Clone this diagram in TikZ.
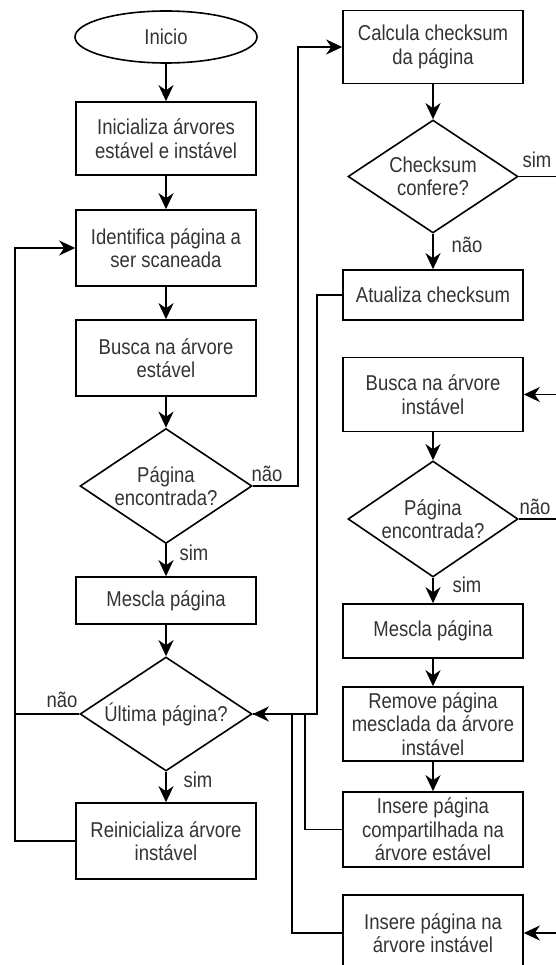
\documentclass[tikz,border=0pt]{standalone}
\usepackage{fontspec}
\setmainfont{Liberation Sans}[FakeStretch=0.86]
\usetikzlibrary{shapes.geometric,arrows.meta}
\begin{document}
\begin{tikzpicture}[x=1pt,y=-1pt,
  txt/.style={font=\fontsize{21.5}{23.5}\selectfont, text=black!80},
  proc/.style={txt, draw, line width=1.6pt, rectangle, minimum width=180pt,
    inner sep=0pt, align=center},
  startnode/.style={txt, draw, line width=1.6pt, ellipse, minimum width=182pt,
    minimum height=52pt, inner sep=0pt},
  decision/.style={draw, line width=1.6pt, diamond, inner sep=0pt},
  dtext/.style={txt, align=center},
  lbl/.style={txt, inner sep=0pt},
  wire/.style={line width=1.6pt},
  flow/.style={wire, -{Stealth[length=16pt,width=15pt,inset=5pt]}}
]
\useasboundingbox (0,0) rectangle (556,965);
\clip (0,0) rectangle (556,965);

% left column
\node[startnode] (inicio) at (166,37) {Inicio};
\node[proc, minimum height=73pt] (init) at (166,138.5) {Inicializa árvores\\estável e instável};
\node[proc, minimum height=76pt] (ident) at (166,248) {Identifica página a\\ser scaneada};
\node[proc, minimum height=76pt] (busca1) at (166,358) {Busca na árvore\\estável};
\node[decision, minimum width=172pt, minimum height=115pt,
  label={[dtext]center:Página\\encontrada?}] (dec1) at (166,486) {};
\node[proc, minimum height=47pt] (mescla1) at (166,600.5) {Mescla página};
\node[decision, minimum width=172pt, minimum height=114pt,
  label={[dtext]center:Última página?}] (dec2) at (166,714) {};
\node[proc, minimum height=76pt] (reinic) at (166,841) {Reinicializa árvore\\instável};

% right column
\node[proc, minimum height=73pt] (calc) at (433,47) {Calcula checksum\\da página};
\node[decision, minimum width=170pt, minimum height=113pt,
  label={[dtext]center:Checksum\\confere?}] (dec3) at (433,176.5) {};
\node[proc, minimum height=50pt] (atualiza) at (433,295) {Atualiza checksum};
\node[proc, minimum height=74pt] (busca2) at (433,394.5) {Busca na árvore\\instável};
\node[decision, minimum width=170pt, minimum height=116pt,
  label={[dtext]center:Página\\encontrada?}] (dec4) at (433,519) {};
\node[proc, minimum height=54pt] (mescla2) at (433,631) {Mescla página};
\node[proc, minimum height=74pt] (remove) at (433,724) {Remove página\\mesclada da árvore\\instável};
\node[proc, minimum height=75pt] (insere1) at (433,829.5) {Insere página\\compartilhada na\\árvore estável};
\node[proc, minimum height=76pt] (insere2) at (433,933) {Insere página na\\árvore instável};

% off-page ends and the left return rail
\coordinate (redge) at (560,0);
\coordinate (lrail) at (15,0);

% main sequence
\draw[flow] (inicio) -- (init);
\draw[flow] (init) -- (ident);
\draw[flow] (ident) -- (busca1);
\draw[flow] (busca1) -- (dec1);
\draw[flow] (dec1) -- (mescla1);
\draw[flow] (mescla1) -- (dec2);
\draw[flow] (dec2) -- (reinic);

% loop back to the next page
\draw[flow] (reinic.west) -- (reinic.west -| lrail) |- (ident.west);
\draw[wire] (dec2.west) -- (dec2.west -| lrail);

% page not found in the stable tree
\draw[flow] (dec1.east) -- ++(45,0) |- (calc.west);
\draw[flow] (calc) -- (dec3);
\draw[flow] (dec3) -- (atualiza);
\draw[wire] (dec3.east) -- (dec3.east -| redge);

% returns to the last-page test
\draw[flow] (atualiza.west) -- ++(-25,0) |- (dec2.east);
\draw[wire] (insere1.west) -- ++(-37,0) |- (dec2.east);
\draw[wire] (insere2.west) -- ++(-50,0) |- (dec2.east);

% unstable tree search
\draw[flow] (busca2.east -| redge) -- (busca2.east);
\draw[flow] (busca2) -- (dec4);
\draw[flow] (dec4) -- (mescla2);
\draw[wire] (dec4.east) -- (dec4.east -| redge);
\draw[flow] (mescla2) -- (remove);
\draw[flow] (remove) -- (insere1);
\draw[flow] (insere2.east -| redge) -- (insere2.east);

% branch labels
\node[lbl] (l1) at (267,474) {não};
\node[lbl] (l2) at (194,553) {sim};
\node[lbl] (l3) at (62,700) {não};
\node[lbl] (l4) at (198,780) {sim};
\node[lbl] (l5) at (537,160) {sim};
\node[lbl] (l6) at (467,245) {não};
\node[lbl] (l7) at (535,507) {não};
\node[lbl] (l8) at (467,585) {sim};
\end{tikzpicture}
\end{document}
